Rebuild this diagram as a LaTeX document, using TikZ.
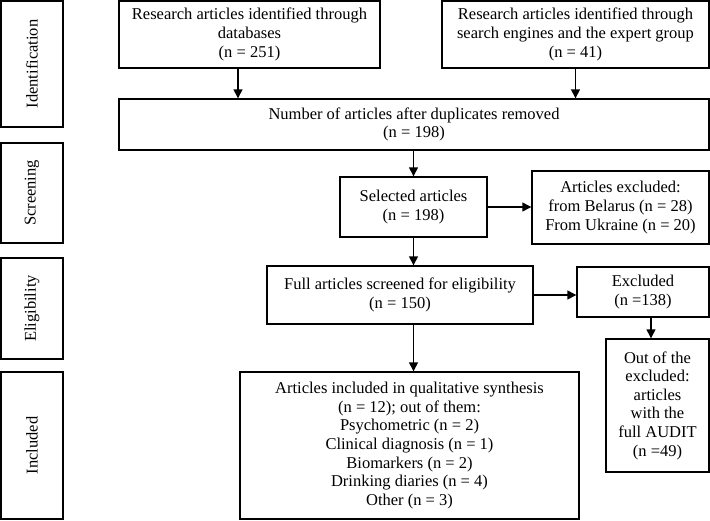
\documentclass[tikz,border=0pt]{standalone}
\usepackage{fontspec}
\setmainfont{Liberation Serif}
\usetikzlibrary{arrows}
\usetikzlibrary{arrows.meta}

\tikzset{
    box/.style={draw, line width=1.4pt, align=center, inner sep=2pt,
        font=\fontsize{16.5}{18.6}\selectfont},
    stage/.style={box, rotate=90},
    arr/.style={line width=1.4pt, arrows={-Triangle[length=9pt,width=9pt]}}
}

\begin{document}
\begin{tikzpicture}[x=1pt, y=-1pt]
                \useasboundingbox (0,0) rectangle (710,520);

                % stages on the left
                \node[stage, minimum width=126pt, minimum height=62pt] (sident) at (32,64) {Identification};
                \node[stage, minimum width=100pt, minimum height=62pt] (sscreen) at (32,193) {Screening};
                \node[stage, minimum width=101pt, minimum height=62pt] (selig) at (32,308.5) {Eligibility};
                \node[stage, minimum width=147pt, minimum height=62pt] (sincl) at (32,445.5) {Included};

                % identification
                \node[box, minimum width=261pt, minimum height=67pt] (dbase) at (249.5,34.5)
                    {Research articles identified through\\databases\\(n = 251)};
                \node[box, minimum width=267pt, minimum height=67pt] (engines) at (575.5,34.5)
                    {Research articles identified through\\search engines and the expert group\\(n = 41)};
                \node[box, minimum width=590pt, minimum height=51pt] (dedup) at (414,124.5)
                    {Number of articles after duplicates removed\\(n = 198)};
                \draw[arr] ([xshift=-11.5pt]dbase.south) -- ([xshift=-11.5pt]dbase.south |- dedup.north);
                \draw[arr] (engines.south) -- (engines.south |- dedup.north);

                % screening
                \node[box, minimum width=147pt, minimum height=60pt] (selected) at (413.5,207)
                    {Selected articles\\(n = 198)};
                \node[box, minimum width=177pt, minimum height=73pt] (country) at (620.5,207.5)
                    {Articles excluded:\\from Belarus (n = 28)\\From Ukraine (n = 20)};
                \draw[arr] (dedup.south -| selected.north) -- (selected.north);
                \draw[arr] (selected.east) -- (selected.east -| country.west);

                % eligibility
                \node[box, minimum width=266pt, minimum height=58pt] (full) at (400,295)
                    {Full articles screened for eligibility\\(n = 150)};
                \node[box, minimum width=132pt, minimum height=50pt] (excl) at (643,292)
                    {Excluded\\(n =138)};
                \draw[arr] (selected.south) -- (selected.south |- full.north);
                \draw[arr] (full.east) -- (full.east -| excl.west);

                % included
                \node[box, minimum width=103pt, minimum height=133pt] (audit) at (657.5,405.5)
                    {Out of the\\excluded:\\articles\\with the\\full AUDIT\\(n =49)};
                \node[box, minimum width=339pt, minimum height=147pt] (incl) at (409.5,445.5)
                    {Articles included in qualitative synthesis\\(n = 12); out of them:\\Psychometric (n = 2)\\Clinical diagnosis (n = 1)\\Biomarkers (n = 2)\\Drinking diaries (n = 4)\\Other (n = 3)};
                \draw[arr] ([xshift=8pt]excl.south) -- ([xshift=8pt]excl.south |- audit.north);
                \draw[arr] (selected.south |- full.south) -- (selected.south |- incl.north);
            \end{tikzpicture}
\end{document}
